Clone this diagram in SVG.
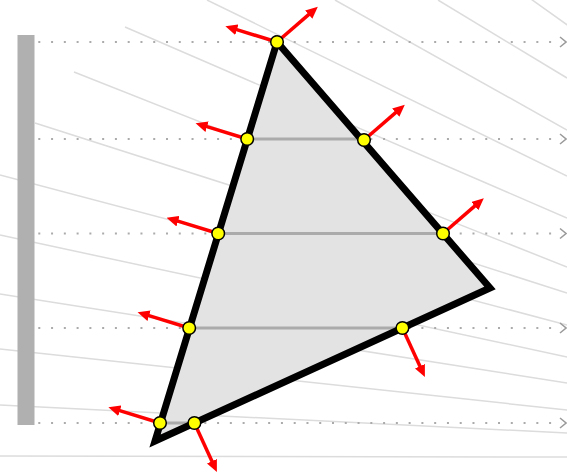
<svg xmlns="http://www.w3.org/2000/svg" width="567" height="474" viewBox="0 0 567 474">
<defs>
<style>
.bg{stroke:#dcdcdc;stroke-width:1.5;fill:none}
.dot{stroke:#ababab;stroke-width:2;stroke-dasharray:2 10.77;fill:none}
.chev{stroke:#9a9a9a;stroke-width:1.5;fill:none}
.chord{stroke:#ababab;stroke-width:3;fill:none}
.nrm{stroke:#ff0000;stroke-width:3.5;fill:none;marker-end:url(#ah)}
.pt{fill:#ffff00;stroke:#000;stroke-width:1.5}
</style>
<marker id="ah" markerUnits="userSpaceOnUse" viewBox="0 0 12 11" refX="1" refY="5.5" markerWidth="12" markerHeight="11" orient="auto">
<path d="M0,0 L12,5.5 L0,11 Z" fill="#ff0000"/>
</marker>
</defs>
<g id="background-lines">
<line class="bg" x1="500" y1="-23" x2="580" y2="34"/>
<line class="bg" x1="438" y1="0" x2="567" y2="78"/>
<line class="bg" x1="335" y1="0" x2="567" y2="130"/>
<line class="bg" x1="207" y1="0" x2="567" y2="176"/>
<line class="bg" x1="125" y1="27" x2="567" y2="218"/>
<line class="bg" x1="74" y1="72" x2="567" y2="267"/>
<line class="bg" x1="35" y1="123" x2="567" y2="293"/>
<line class="bg" x1="0" y1="175" x2="567" y2="325"/>
<line class="bg" x1="0" y1="235" x2="567" y2="357"/>
<line class="bg" x1="0" y1="294" x2="567" y2="383"/>
<line class="bg" x1="0" y1="349" x2="567" y2="410"/>
<line class="bg" x1="0" y1="405" x2="567" y2="433"/>
<line class="bg" x1="0" y1="456" x2="567" y2="457"/>
</g>
<g id="rays">
<line class="dot" x1="38.3" y1="42" x2="562" y2="42"/>
<line class="dot" x1="38.3" y1="139" x2="562" y2="139"/>
<line class="dot" x1="38.3" y1="233.5" x2="562" y2="233.5"/>
<line class="dot" x1="38.3" y1="328" x2="562" y2="328"/>
<line class="dot" x1="38.3" y1="423" x2="562" y2="423"/>
<polyline class="chev" points="560,37 566,42 560,47"/>
<polyline class="chev" points="560,134 566,139 560,144"/>
<polyline class="chev" points="560,228.5 566,233.5 560,238.5"/>
<polyline class="chev" points="560,323 566,328 560,333"/>
<polyline class="chev" points="560,418 566,423 560,428"/>
</g>
<g id="screen">
<rect x="17.5" y="35" width="17" height="390" fill="#b0b0b0"/>
</g>
<g id="triangle">
<path d="M277,42 L490,288 L155,441 Z" fill="#e3e3e3"/>
<line class="chord" x1="247.2" y1="139" x2="364" y2="139"/>
<line class="chord" x1="218.2" y1="233.5" x2="443" y2="233.5"/>
<line class="chord" x1="189.2" y1="328" x2="402.4" y2="328"/>
<line class="chord" x1="160" y1="423" x2="194.4" y2="423"/>
<path d="M277,42 L490,288 L155,441 Z" fill="none" stroke="#000" stroke-width="7" stroke-linejoin="miter" stroke-miterlimit="10"/>
</g>
<g id="normals">
<line class="nrm" x1="277" y1="42" x2="235.9" y2="29.4"/>
<line class="nrm" x1="277" y1="42" x2="309.5" y2="13.9"/>
<line class="nrm" x1="247.2" y1="139" x2="206.1" y2="126.4"/>
<line class="nrm" x1="364" y1="140" x2="396.5" y2="111.9"/>
<line class="nrm" x1="218.2" y1="233.5" x2="177.1" y2="220.9"/>
<line class="nrm" x1="443" y1="233.5" x2="475.5" y2="205.4"/>
<line class="nrm" x1="189.2" y1="328" x2="148.1" y2="315.4"/>
<line class="nrm" x1="402.4" y1="328" x2="420.3" y2="367.1"/>
<line class="nrm" x1="160" y1="423" x2="118.9" y2="410.4"/>
<line class="nrm" x1="194.4" y1="423" x2="212.3" y2="462.1"/>
</g>
<g id="points">
<circle class="pt" cx="277" cy="42" r="6.3"/>
<circle class="pt" cx="247.2" cy="139" r="6.3"/>
<circle class="pt" cx="364" cy="140" r="6.3"/>
<circle class="pt" cx="218.2" cy="233.5" r="6.3"/>
<circle class="pt" cx="443" cy="233.5" r="6.3"/>
<circle class="pt" cx="189.2" cy="328" r="6.3"/>
<circle class="pt" cx="402.4" cy="328" r="6.3"/>
<circle class="pt" cx="160" cy="423" r="6.3"/>
<circle class="pt" cx="194.4" cy="423" r="6.3"/>
</g>
</svg>
